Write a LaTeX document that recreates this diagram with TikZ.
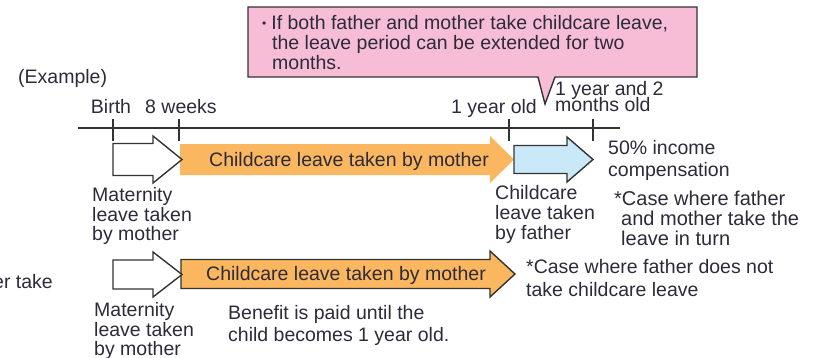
\documentclass[tikz,border=0pt]{standalone}
\usepackage{fontspec}
\setmainfont{Liberation Sans}
\definecolor{ink}{HTML}{2B2B3A}
\definecolor{linec}{HTML}{333333}
\definecolor{orangef}{HTML}{FBB660}
\definecolor{bluef}{HTML}{C9E9F8}
\definecolor{pinkf}{HTML}{F7BCD6}
% block arrow: style, left x, head start x, tip x, centre y, body half height, head half height
\newcommand\blockarrow[7]{%
  \path[#1] (#2,#5-#6) -- (#3,#5-#6) -- (#3,#5-#7) -- (#4,#5)
    -- (#3,#5+#7) -- (#3,#5+#6) -- (#2,#5+#6) -- cycle;}
\begin{document}
\begin{tikzpicture}[x=1pt,y=-1pt,
  lbl/.style={font=\fontsize{19.5pt}{20pt}\selectfont, text=ink, inner sep=0pt, align=left},
  outl/.style={draw=linec, line width=1.4pt, line join=miter},
  tick/.style={draw=linec, line width=1.3pt}]
\useasboundingbox (0,0) rectangle (817,357);
\clip (0,0) rectangle (817,357);

% callout with pointer to the extension mark
\path[outl, fill=pinkf] (248,7) -- (697,7) -- (697,77) -- (555,77) -- (545,104)
  -- (538,77) -- (248,77) -- cycle;
\node[lbl, anchor=north west] (note) at (262,15.5)
  {{\fontsize{12pt}{12pt}\selectfont\raisebox{2pt}{•}}\hspace{5pt}If both father and mother take childcare leave,\\
   \hspace*{10pt}the leave period can be extended for two\\
   \hspace*{10pt}months.};

% timeline
\coordinate (tl0) at (78,128);
\coordinate (tl1) at (620,128);
\draw[tick] (tl0) -- (tl1);
\foreach \x/\n in {113/birth,179/weeks,509/year,593/yeartwo}{
  \draw[tick] (\x,119) -- (\x,141);
}
\node[lbl, anchor=base west] (example) at (18,83) {(Example)};
\node[lbl, anchor=base] (lbirth) at (111,113) {Birth};
\node[lbl, anchor=base] (lweeks) at (181,113) {8 weeks};
\node[lbl, anchor=base east] (lyear) at (537,113) {1 year old};
\node[lbl, anchor=north west] (lyeartwo) at (555,81.5) {1 year and 2\\[-4pt]months old};

% first case: leave taken in turn
\blockarrow{fill=orangef}{180}{490}{514}{159.5}{15.5}{23.5}
\blockarrow{outl, fill=white}{113}{153}{182}{159.5}{16}{23.5}
\blockarrow{outl, fill=bluef}{514}{567}{593}{159.5}{14}{22.5}
\node[lbl, anchor=base] (mother1) at (349,166) {Childcare leave taken by mother};
\node[lbl, anchor=north west] (mat1) at (92,187.5) {Maternity\\[-0.5pt]leave taken\\[-0.5pt]by mother};
\node[lbl, anchor=north west] (father) at (495,185.5) {Childcare\\leave taken\\by father};
\node[lbl, anchor=north west] (income) at (608,140.5) {50\% income\\[2pt]compensation};
\node[lbl, anchor=north west, font=\fontsize{20pt}{20pt}\selectfont] (case1) at (614,190.5)
  {*Case where father\\\hspace*{7pt}and mother take the\\\hspace*{7pt}leave in turn};

% second case: father takes no leave
\blockarrow{outl, fill=orangef}{181}{490}{515}{274}{14.5}{23}
\blockarrow{outl, fill=white}{113}{153}{182}{274.5}{14.5}{22.5}
\node[lbl, anchor=base] (mother2) at (346,280) {Childcare leave taken by mother};
\node[lbl, anchor=north west] (mat2) at (94,302.5) {Maternity\\[-0.5pt]leave taken\\[-0.5pt]by mother};
\node[lbl, anchor=north west] (benefit) at (228,305.5) {Benefit is paid until the\\[2pt]child becomes 1 year old.};
\node[lbl, anchor=north west] (case2) at (526,259.5) {*Case where father does not\\[3pt]take childcare leave};
\node[lbl, anchor=base east] (side) at (53,288) {er take};
\end{tikzpicture}
\end{document}
